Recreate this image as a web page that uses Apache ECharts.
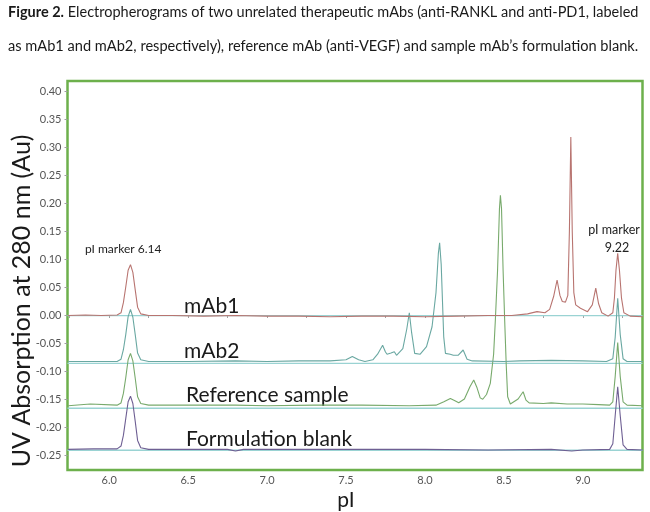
<!DOCTYPE html>
<html>
<head>
<meta charset="utf-8">
<script src="https://cdn.jsdelivr.net/npm/echarts@6/dist/echarts.min.js"></script>
<style>html,body{margin:0;padding:0;background:#fff}#c{width:650px;height:512px}</style>
</head>
<body>
<div id="c"></div>
<script>
// ---- data (pI, absorbance) ----
const xTicks = [6.0, 6.5, 7.0, 7.5, 8.0, 8.5, 9.0];
const xMinorTicks = [5.75, 6.0, 6.25, 6.5, 6.75, 7.0, 7.25, 7.5, 7.75, 8.0, 8.25, 8.5, 8.75, 9.0, 9.25];
const yTicks = [-0.25, -0.20, -0.15, -0.10, -0.05, 0.00, 0.05, 0.10, 0.15, 0.20, 0.25, 0.30, 0.35, 0.40];

const mAb1 = [
  [5.74,-0.001],[5.85,0.000],[5.95,-0.001],[6.05,0.000],[6.075,0.004],[6.09,0.022],[6.105,0.050],
  [6.12,0.080],[6.135,0.090],[6.15,0.076],[6.165,0.045],[6.18,0.014],[6.20,0.002],[6.25,-0.001],
  [6.4,-0.001],[6.6,-0.002],[6.8,-0.001],[7.0,-0.002],[7.2,-0.002],[7.4,-0.003],[7.6,-0.002],
  [7.8,-0.002],[8.0,-0.003],[8.2,-0.002],[8.4,-0.001],[8.55,-0.001],[8.65,0.002],[8.71,0.006],
  [8.76,0.004],[8.79,0.010],[8.815,0.033],[8.837,0.0625],[8.855,0.035],[8.87,0.024],[8.89,0.023],
  [8.905,0.035],[8.915,0.15],[8.924,0.318],[8.933,0.15],[8.943,0.04],[8.955,0.018],[8.985,0.012],
  [9.03,0.006],[9.06,0.018],[9.082,0.048],[9.10,0.020],[9.12,0.004],[9.16,-0.002],[9.19,0.004],
  [9.20,0.030],[9.21,0.080],[9.221,0.110],[9.232,0.080],[9.245,0.030],[9.26,0.004],[9.3,-0.002],[9.38,-0.003]
];
const mAb2 = [
  [5.74,-0.083],[5.9,-0.083],[6.05,-0.083],[6.075,-0.079],[6.09,-0.062],[6.105,-0.035],[6.12,-0.003],
  [6.135,0.010],[6.15,-0.004],[6.165,-0.035],[6.18,-0.068],[6.20,-0.080],[6.25,-0.083],[6.5,-0.083],
  [6.8,-0.082],[7.0,-0.083],[7.2,-0.082],[7.4,-0.082],[7.5,-0.080],[7.54,-0.074],[7.58,-0.080],
  [7.62,-0.083],[7.67,-0.080],[7.70,-0.070],[7.732,-0.054],[7.75,-0.066],[7.76,-0.070],[7.785,-0.068],
  [7.806,-0.0655],[7.82,-0.072],[7.83,-0.074],[7.86,-0.060],[7.885,-0.025],[7.901,0.004],[7.915,-0.030],
  [7.935,-0.0685],[7.97,-0.070],[8.01,-0.0565],[8.045,-0.021],[8.07,0.040],[8.085,0.110],[8.093,0.129],
  [8.103,0.090],[8.119,-0.039],[8.13,-0.0685],[8.16,-0.070],[8.18,-0.072],[8.21,-0.072],[8.242,-0.0625],
  [8.267,-0.079],[8.3,-0.082],[8.5,-0.083],[8.6,-0.082],[8.8,-0.081],[9.0,-0.082],[9.15,-0.083],
  [9.19,-0.078],[9.205,-0.040],[9.221,0.030],[9.237,-0.035],[9.255,-0.078],[9.28,-0.083],[9.38,-0.083]
];
const refSample = [
  [5.74,-0.162],[5.88,-0.159],[6.05,-0.161],[6.075,-0.157],[6.09,-0.140],[6.105,-0.112],[6.12,-0.080],
  [6.135,-0.0685],[6.15,-0.082],[6.165,-0.113],[6.18,-0.146],[6.20,-0.158],[6.25,-0.161],[6.5,-0.161],
  [6.8,-0.161],[7.0,-0.162],[7.3,-0.161],[7.6,-0.161],[7.9,-0.162],[8.07,-0.161],[8.12,-0.155],
  [8.161,-0.149],[8.19,-0.153],[8.214,-0.1566],[8.25,-0.150],[8.285,-0.128],[8.309,-0.116],[8.33,-0.130],
  [8.35,-0.148],[8.366,-0.1505],[8.39,-0.142],[8.414,-0.122],[8.435,-0.07],[8.446,-0.009],[8.46,0.08],
  [8.472,0.19],[8.478,0.214],[8.485,0.19],[8.495,0.08],[8.505,-0.009],[8.515,-0.09],[8.524,-0.146],
  [8.541,-0.159],[8.552,-0.1566],[8.59,-0.150],[8.622,-0.137],[8.64,-0.152],[8.66,-0.157],[8.75,-0.158],
  [8.8,-0.157],[8.9,-0.159],[9.0,-0.159],[9.1,-0.160],[9.17,-0.161],[9.19,-0.155],[9.205,-0.110],
  [9.221,-0.049],[9.237,-0.110],[9.255,-0.155],[9.28,-0.161],[9.38,-0.162]
];
const blank = [
  [5.74,-0.240],[5.9,-0.239],[6.05,-0.239],[6.075,-0.234],[6.09,-0.215],[6.105,-0.185],[6.12,-0.155],
  [6.135,-0.145],[6.15,-0.158],[6.165,-0.190],[6.18,-0.224],[6.20,-0.237],[6.25,-0.240],[6.5,-0.240],
  [6.75,-0.240],[6.8,-0.243],[6.85,-0.240],[7.2,-0.240],[7.6,-0.240],[8.0,-0.240],[8.4,-0.241],
  [8.8,-0.240],[8.93,-0.243],[9.0,-0.241],[9.17,-0.240],[9.19,-0.230],[9.205,-0.180],[9.221,-0.128],
  [9.237,-0.180],[9.255,-0.232],[9.28,-0.240],[9.38,-0.241]
];
const baselineLevels = [-0.001, -0.0865, -0.1665, -0.2415];
const xRange = [5.736, 9.378];

const chart = echarts.init(document.getElementById('c'));
const FONT = 'Lato';
const baseSeries = baselineLevels.map(v => ({
  type: 'line', data: [[xRange[0], v], [xRange[1], v]], showSymbol: false, silent: true,
  lineStyle: { color: '#9ad3d3', width: 1.3 }, z: 2
}));
function trace(data, color) {
  return { type: 'line', data: data, showSymbol: false, silent: true,
    lineStyle: { color: color, width: 1.1 }, z: 3 };
}
chart.setOption({
  animation: false,
  backgroundColor: '#ffffff',
  title: [
    { text: '{b|Figure 2.} Electropherograms of two unrelated therapeutic mAbs (anti-RANKL and anti-PD1, labeled',
      left: 8, top: 5, padding: 0,
      textStyle: { fontFamily: FONT, fontSize: 14.5, fontWeight: 'normal', color: '#1a1a1a',
        rich: { b: { fontFamily: FONT, fontSize: 14.5, fontWeight: 'bold', color: '#1a1a1a' } } } },
    { text: 'as mAb1 and mAb2, respectively), reference mAb (anti-VEGF) and sample mAb\u2019s formulation blank.',
      left: 8, top: 39, padding: 0,
      textStyle: { fontFamily: FONT, fontSize: 14.6, fontWeight: 'normal', color: '#1a1a1a' } }
  ],
  grid: { left: 67.5, right: 7.5, top: 81, bottom: 42, show: true, borderColor: '#6db04c', borderWidth: 2.5,
    backgroundColor: 'transparent', outerBoundsMode: 'none' },
  xAxis: {
    type: 'value', min: xRange[0], max: xRange[1],
    axisLine: { show: false },
    axisTick: { show: true, customValues: xMinorTicks, length: 3, lineStyle: { color: '#a0a0a0' } },
    axisLabel: { customValues: xTicks, formatter: v => v.toFixed(1), color: '#555', fontFamily: FONT, fontSize: 11, margin: 5 },
    splitLine: { show: false }
  },
  yAxis: {
    type: 'value', min: -0.2768, max: 0.4179,
    axisLine: { show: false },
    axisTick: { show: true, customValues: yTicks, length: 3, lineStyle: { color: '#a0a0a0' } },
    axisLabel: { customValues: yTicks, formatter: v => v.toFixed(2), color: '#555', fontFamily: FONT, fontSize: 11, margin: 6 },
    splitLine: { show: false }
  },
  series: baseSeries.concat([
    trace(blank, '#6e5f93'),
    trace(refSample, '#78aa6c'),
    trace(mAb2, '#6aa8a2'),
    trace(mAb1, '#b87470')
  ]),
  graphic: [
    { type: 'text', x: 22, y: 301, rotation: Math.PI / 2,
      style: { text: 'UV Absorption at 280 nm (Au)', font: '25px ' + FONT, fill: '#1a1a1a', textAlign: 'center', textVerticalAlign: 'middle' } },
    { type: 'text', x: 346, y: 500,
      style: { text: 'pI', font: '21px ' + FONT, fill: '#1a1a1a', textAlign: 'center', textVerticalAlign: 'middle' } },
    { type: 'text', x: 85, y: 249,
      style: { text: 'pI marker 6.14', font: '12px ' + FONT, fill: '#222', textAlign: 'left', textVerticalAlign: 'middle' } },
    { type: 'text', x: 614, y: 230,
      style: { text: 'pI marker', font: '12.5px ' + FONT, fill: '#222', textAlign: 'center', textVerticalAlign: 'middle' } },
    { type: 'text', x: 617, y: 247.5,
      style: { text: '9.22', font: '12.5px ' + FONT, fill: '#222', textAlign: 'center', textVerticalAlign: 'middle' } },
    { type: 'text', x: 184, y: 306,
      style: { text: 'mAb1', font: '21px ' + FONT, fill: '#1a1a1a', textAlign: 'left', textVerticalAlign: 'middle' } },
    { type: 'text', x: 184, y: 351,
      style: { text: 'mAb2', font: '21px ' + FONT, fill: '#1a1a1a', textAlign: 'left', textVerticalAlign: 'middle' } },
    { type: 'text', x: 186, y: 395,
      style: { text: 'Reference sample', font: '21px ' + FONT, fill: '#1a1a1a', textAlign: 'left', textVerticalAlign: 'middle' } },
    { type: 'text', x: 186, y: 439,
      style: { text: 'Formulation blank', font: '21px ' + FONT, fill: '#1a1a1a', textAlign: 'left', textVerticalAlign: 'middle' } }
  ]
});
</script>
</body>
</html>
